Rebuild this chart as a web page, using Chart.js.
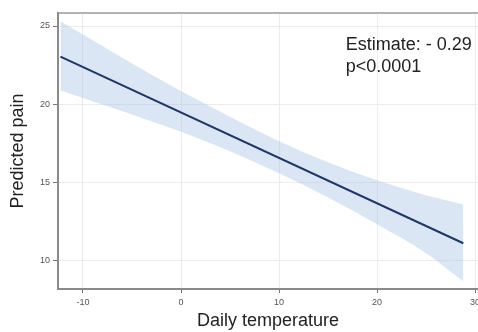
<!DOCTYPE html>
<html>
<head>
<meta charset="utf-8">
<script src="https://cdn.jsdelivr.net/npm/chart.js@4"></script>
<style>
  html, body { margin: 0; padding: 0; background: #fff; overflow: hidden; }
  canvas { display: block; }
</style>
</head>
<body>
<canvas id="painChart" width="478" height="332"></canvas>
<script>
  // values
  const temps = [-12.3, -10, -5, 0, 5, 10, 15, 20, 25, 28.8];
  const upperCI = [25.3, 24.45, 22.6, 20.85, 19.2, 17.65, 16.3, 15.15, 14.2, 13.6];
  const lowerCI = [20.9, 20.4, 19.35, 18.25, 17.0, 15.6, 14.05, 12.35, 10.5, 8.7];
  const fitTemps = [-12.3, 28.8];
  const fitPain = [23.04, 11.13];
  const xTicks = [-10, 0, 10, 20, 30];
  const yTicks = [10, 15, 20, 25];
  const estimateLabel = "Estimate: - 0.29";
  const pLabel = "p<0.0001";

  const fontFam = '"Liberation Sans", Arial, sans-serif';
  const toPoints = (xs, ys) => xs.map((x, i) => ({ x: x, y: ys[i] }));

  // top border + estimate text
  const notes = {
    id: "notes",
    afterDraw(chart) {
      const { ctx, chartArea, scales } = chart;
      ctx.save();
      ctx.strokeStyle = "#9a9a9a";
      ctx.lineWidth = 1.5;
      ctx.beginPath();
      ctx.moveTo(chartArea.left, chartArea.top);
      ctx.lineTo(chartArea.right, chartArea.top);
      ctx.stroke();
      ctx.fillStyle = "#222";
      ctx.font = "18px " + fontFam;
      const x = scales.x.getPixelForValue(16.8);
      const y = scales.y.getPixelForValue(23.47);
      ctx.fillText(estimateLabel, x, y);
      ctx.fillText(pLabel, x, y + 22);
      ctx.restore();
    }
  };

  const ctx = document.getElementById("painChart").getContext("2d");
  new Chart(ctx, {
    type: "line",
    data: {
      datasets: [
        {
          label: "fit",
          data: toPoints(fitTemps, fitPain),
          borderColor: "#1d3766",
          borderWidth: 2,
          pointRadius: 0,
          fill: false,
          order: 0
        },
        {
          label: "upper",
          data: toPoints(temps, upperCI),
          borderWidth: 0,
          pointRadius: 0,
          cubicInterpolationMode: "monotone",
          backgroundColor: "rgba(170, 195, 230, 0.42)",
          fill: "+1",
          order: 1
        },
        {
          label: "lower",
          data: toPoints(temps, lowerCI),
          borderWidth: 0,
          pointRadius: 0,
          cubicInterpolationMode: "monotone",
          fill: false,
          order: 2
        }
      ]
    },
    options: {
      responsive: false,
      animation: false,
      layout: { padding: { top: 13, left: 0, right: 0, bottom: 0 } },
      plugins: { legend: { display: false }, tooltip: { enabled: false } },
      scales: {
        x: {
          type: "linear",
          min: -12.55,
          max: 30.3,
          afterBuildTicks: (s) => { s.ticks = xTicks.map((v) => ({ value: v })); },
          afterFit: (s) => { s.height = 43; s.paddingRight = 0; s.paddingLeft = 0; },
          grid: { color: "#ececec", lineWidth: 1, tickColor: "#777", tickLength: 4 },
          border: { color: "#8a8a8a", width: 2 },
          ticks: { color: "#555", font: { size: 9, family: fontFam }, padding: 4, maxRotation: 0 },
          title: {
            display: true,
            text: "Daily temperature",
            color: "#222",
            font: { size: 18, family: fontFam },
            padding: { top: 0, bottom: 0 }
          }
        },
        y: {
          type: "linear",
          min: 8.21,
          max: 25.83,
          afterBuildTicks: (s) => { s.ticks = yTicks.map((v) => ({ value: v })); },
          afterFit: (s) => { s.width = 58; },
          grid: { color: "#ececec", lineWidth: 1, tickColor: "#777", tickLength: 5 },
          border: { color: "#8a8a8a", width: 2 },
          ticks: { color: "#555", font: { size: 9, family: fontFam }, padding: 3 },
          title: {
            display: true,
            text: "Predicted pain",
            color: "#222",
            font: { size: 18, family: fontFam },
            padding: { top: 7, bottom: 0 }
          }
        }
      }
    },
    plugins: [notes]
  });
</script>
</body>
</html>
